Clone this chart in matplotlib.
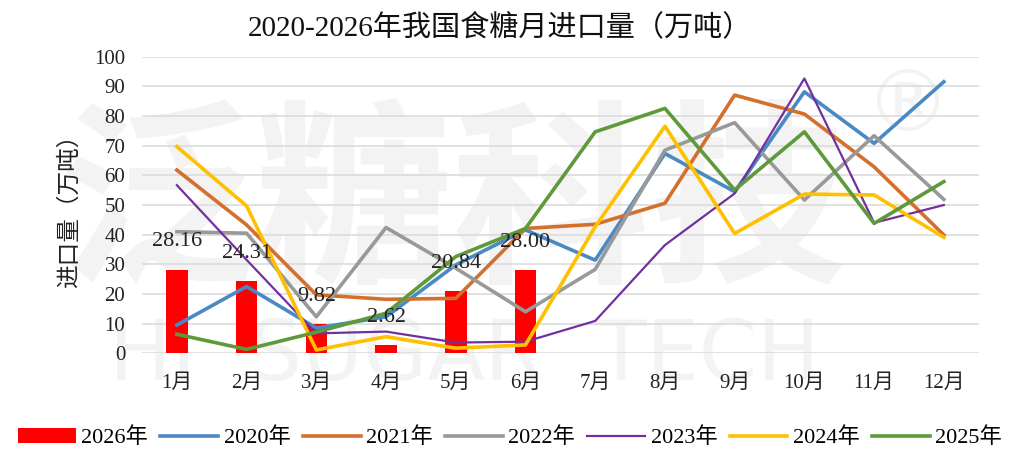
import numpy as np
import matplotlib
matplotlib.use("Agg")
from matplotlib import pyplot as plt
from matplotlib.patches import Patch
from matplotlib.lines import Line2D

plt.rcParams['font.family'] = ['Liberation Serif', 'Noto Sans CJK SC', 'DejaVu Sans']

months = ['1月', '2月', '3月', '4月', '5月', '6月', '7月', '8月', '9月', '10月', '11月', '12月']

# 2026 bars (only Jan-Jun so far)
y2026 = [28.16, 24.31, 9.82, 2.62, 20.84, 28.00]

y2020 = [9.5, 22.5, 8.5, 12.3, 29.8, 41.6, 31.4, 67.4, 54.5, 88.2, 70.8, 91.6]
y2021 = [61.8, 43.3, 19.7, 18.2, 18.5, 42.1, 43.5, 50.6, 87.1, 80.7, 62.9, 39.9]
y2022 = [41.0, 40.5, 12.3, 42.4, 28.7, 14.0, 28.3, 68.5, 77.8, 51.7, 73.4, 51.9]
y2023 = [56.7, 31.5, 6.7, 7.3, 3.6, 3.9, 10.9, 36.5, 53.9, 92.7, 44.0, 50.0]
y2024 = [69.7, 49.7, 1.1, 5.6, 1.7, 2.8, 42.7, 76.6, 40.4, 53.7, 53.4, 39.1]
y2025 = [6.4, 1.3, 7.1, 13.5, 32.6, 42.1, 74.7, 82.6, 55.1, 74.7, 43.8, 57.9]

lines = [
    ('2020年', y2020, '#4a89c4', 2.6),
    ('2021年', y2021, '#d46f2c', 2.6),
    ('2022年', y2022, '#999999', 2.6),
    ('2023年', y2023, '#7030a0', 1.6),
    ('2024年', y2024, '#ffc000', 2.6),
    ('2025年', y2025, '#5e9a3a', 2.6),
]

fig = plt.figure(figsize=(10.1, 4.66), dpi=100)
ax = fig.add_axes([0.1406, 0.242, 0.8284, 0.636])
ax.patch.set_alpha(0)

# watermark behind everything
wm = '#f3f3f3'
fig.text(0.448, 0.55, '泛糖科技', fontsize=142, color=wm, ha='center', va='center',
         family=['Noto Sans CJK SC'], weight='bold', zorder=-1)
fig.text(0.46, 0.234, 'HI  SUGAR  TECH', fontsize=60, color=wm, ha='center', va='center',
         family=['DejaVu Sans'], zorder=-1)
fig.text(0.898, 0.77, '®', fontsize=62, color=wm, ha='center', va='center',
         family=['DejaVu Sans'], zorder=-1)

x = np.arange(len(months))
ax.bar(x[:len(y2026)], y2026, width=0.31, color='#ff0000', zorder=2)
for xi, v in zip(x, y2026):
    ax.annotate('%.2f' % v, (xi, v), xytext=(0, 20), textcoords='offset points',
                ha='center', va='center', fontsize=16, color='#222222', zorder=5)

for name, ys, c, lw in lines:
    ax.plot(x, ys, color=c, linewidth=lw, zorder=3)

ax.set_xlim(-0.5, 11.5)
ax.set_ylim(0, 100)
ax.set_yticks(range(0, 101, 10))
ax.set_xticks(x)
ax.set_xticklabels(months)
ax.grid(axis='y', color='#d9d9d9', linewidth=1.1, zorder=1)
ax.set_axisbelow(True)
for s in ax.spines.values():
    s.set_visible(False)
ax.tick_params(length=0, labelsize=15, colors='#222222')
ax.tick_params(axis='y', pad=12)
ax.tick_params(axis='x', pad=15)
ax.set_ylabel('进口量（万吨）', fontsize=17, color='#222222', labelpad=10)

fig.text(0.495, 0.94, '2020-2026年我国食糖月进口量（万吨）', fontsize=21,
         ha='center', va='center', color='#111111')

handles = [Patch(facecolor='#ff0000')] + [Line2D([0], [0], color=c, linewidth=lw) for _, _, c, lw in lines]
labels = ['2026年'] + [n for n, _, _, _ in lines]
fig.legend(handles, labels, loc='center', bbox_to_anchor=(0.505, 0.06), ncol=7,
           frameon=False, fontsize=16, handlelength=2.6, handletextpad=0.25,
           columnspacing=0.55)

fig.savefig('out.png', dpi=100)
